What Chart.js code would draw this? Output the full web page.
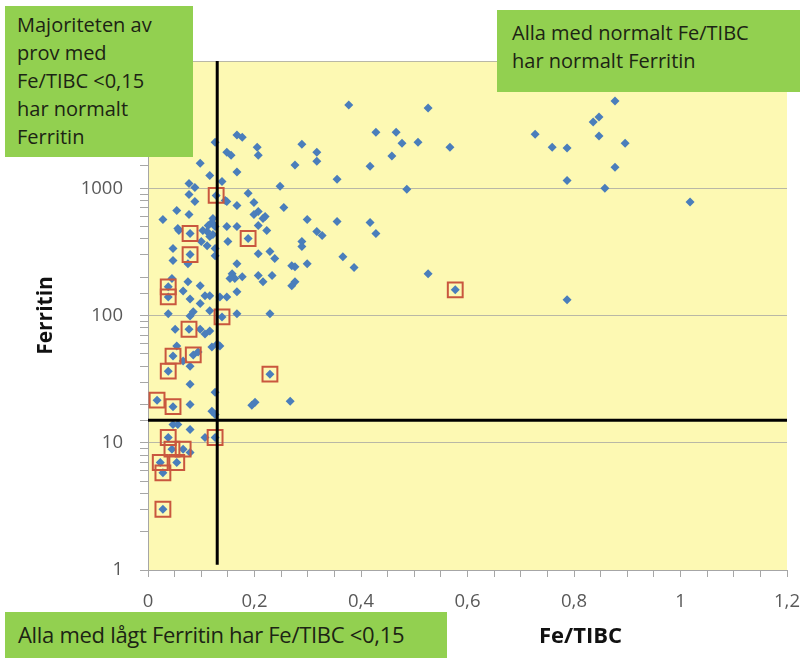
<!DOCTYPE html>
<html>
<head>
<meta charset="utf-8">
<script src="https://cdn.jsdelivr.net/npm/chart.js@4.4.1/dist/chart.umd.min.js"></script>
<style>
  body { margin: 0; background: #fff; }
  #wrap { position: relative; width: 800px; height: 658px; font-family: "Open Sans", Lato, sans-serif; }
  .note { position: absolute; background: #92d050; color: #1c2414; font-size: 20px; line-height: 28px; box-sizing: border-box; }
  #xtitle { position: absolute; left: 539px; top: 619px; font-size: 22px; font-weight: bold; color: #111; }
</style>
</head>
<body>
<div id="wrap">
  <canvas id="c"></canvas>
  <div class="note" style="left:5px;top:6px;width:188px;height:151px;padding:5px 0 0 12px;">Majoriteten av<br>prov med<br>Fe/TIBC &lt;0,15<br>har normalt<br>Ferritin</div>
  <div class="note" style="left:497px;top:10px;width:303px;height:82px;padding:9px 0 0 15px;">Alla med normalt Fe/TIBC<br>har normalt Ferritin</div>
  <div class="note" style="left:5px;top:612px;width:442px;height:46px;padding:7px 0 0 13px;font-size:22px;line-height:30px;letter-spacing:-0.3px;">Alla med lågt Ferritin har Fe/TIBC &lt;0,15</div>
  <div id="xtitle">Fe/TIBC</div>
</div>
<script>
// alla prov: Fe/TIBC och Ferritin
var feTibc = [0.877, 0.847, 0.836, 0.727, 0.759, 0.787, 0.847, 0.896, 0.877, 0.787, 0.858, 1.018, 0.787,
  0.377, 0.526, 0.428, 0.466, 0.477, 0.507, 0.567, 0.458, 0.417, 0.355, 0.486, 0.355, 0.417, 0.428, 0.366, 0.387, 0.526, 0.577,
  0.167, 0.177, 0.126, 0.205, 0.289, 0.148, 0.156, 0.207, 0.317, 0.317, 0.098, 0.276, 0.167, 0.116,
  0.077, 0.248, 0.088, 0.139, 0.077, 0.128, 0.188, 0.148, 0.088, 0.199, 0.167, 0.255, 0.054, 0.207,
  0.199, 0.077, 0.220, 0.028, 0.299, 0.120, 0.113, 0.167, 0.148, 0.207, 0.079, 0.111, 0.058, 0.188,
  0.317, 0.327, 0.223, 0.122, 0.150, 0.289, 0.100, 0.216, 0.122, 0.126, 0.116, 0.047, 0.111, 0.079,
  0.126, 0.207, 0.229, 0.047, 0.126, 0.238, 0.075, 0.167, 0.270, 0.289, 0.299, 0.276, 0.207, 0.158,
  0.177, 0.075, 0.098, 0.233, 0.163, 0.154, 0.216, 0.276, 0.270, 0.038, 0.038, 0.045, 0.066, 0.079,
  0.107, 0.116, 0.135, 0.148, 0.167, 0.098, 0.038, 0.079, 0.085, 0.116, 0.139, 0.167, 0.229, 0.051,
  0.077, 0.098, 0.107, 0.116, 0.130, 0.135, 0.120, 0.054, 0.047, 0.085, 0.094, 0.066, 0.038, 0.079,
  0.229, 0.079, 0.126, 0.017, 0.047, 0.079, 0.201, 0.195, 0.267, 0.120, 0.126, 0.047, 0.056, 0.079,
  0.038, 0.107, 0.126, 0.045, 0.066, 0.079, 0.023, 0.054, 0.028, 0.028, 0.056, 0.103, 0.145];
var ferritin = [4850, 3630, 3310, 2660, 2100, 2070, 2570, 2260, 1460, 1150, 1000, 780, 133,
  4510, 4270, 2760, 2760, 2260, 2300, 2100, 1790, 1490, 1175, 980, 548, 538, 441, 290, 238, 213, 159,
  2620, 2520, 2300, 2100, 2220, 1920, 1820, 1820, 1920, 1630, 1570, 1520, 1340, 1260,
  1090, 1035, 1015, 1130, 895, 879, 912, 788, 788, 774, 733, 707, 669, 658,
  623, 623, 600, 568, 568, 538, 509, 500, 500, 509, 441, 457, 466, 403,
  457, 425, 466, 433, 381, 381, 381, 578, 578, 500, 417, 336, 354, 301,
  336, 306, 318, 270, 295, 280, 255, 255, 246, 348, 255, 242, 206, 213,
  202, 184, 171, 206, 195, 195, 184, 184, 171, 168, 140, 195, 156, 135,
  143, 143, 140, 140, 154, 124, 103, 99, 107, 109, 97.5, 103, 103, 78,
  78, 78, 71.6, 75.5, 59.7, 57.5, 56.5, 57.5, 48, 49, 51.6, 43.8, 36.5, 40,
  34.6, 28.8, 24.9, 21.6, 19.2, 20, 20.8, 19.7, 21.2, 17.7, 16.7, 13.9, 13.9, 12.7,
  11, 11, 11, 8.9, 8.9, 8.4, 7, 7, 5.8, 3, 483, 466, 802];

// markerade prov (röda rutor)
var markFe = [0.128, 0.079, 0.188, 0.079, 0.038, 0.038, 0.139, 0.077, 0.047, 0.085, 0.038, 0.229,
  0.017, 0.047, 0.038, 0.126, 0.045, 0.066, 0.023, 0.054, 0.028, 0.028, 0.577];
var markFerritin = [879, 441, 403, 301, 168, 140, 97.5, 78, 48, 49, 36.5, 34.6,
  21.6, 19.2, 11, 11, 8.9, 8.9, 7, 7, 5.8, 3, 159];

// gränsvärden
var cutFe = 0.13;
var cutFerritin = 15;

var xTicks = [0, 0.2, 0.4, 0.6, 0.8, 1, 1.2];

var gridGrey = '#b9b8a6';
var tickGrey = '#a6a6a6';

function isPow10(v) {
    var l = Math.log10(v);
    return Math.abs(l - Math.round(l)) < 1e-9;
}

var plotBg = {
    id: 'plotBg',
    beforeDraw: function(chart) {
        var a = chart.chartArea, ctx = chart.ctx;
        ctx.save();
        ctx.fillStyle = '#fdf9b3';
        ctx.fillRect(a.left, a.top, a.right - a.left, a.bottom - a.top);
        ctx.restore();
    }
};

var points = feTibc.map(function(x, i) { return {x: x, y: ferritin[i]}; });
var marks = markFe.map(function(x, i) { return {x: x, y: markFerritin[i]}; });

var ctx = document.getElementById('c');

var myChart = new Chart(ctx, {
    type: 'scatter',
    data: {
        datasets: [{
            label: 'Gräns Fe/TIBC',
            data: [{x: cutFe, y: 1.1}, {x: cutFe, y: 10000}],
            showLine: true,
            borderColor: '#000',
            borderWidth: 3,
            pointRadius: 0,
            order: 0
        }, {
            label: 'Gräns Ferritin',
            data: [{x: 0, y: cutFerritin}, {x: 1.2, y: cutFerritin}],
            showLine: true,
            borderColor: '#000',
            borderWidth: 3,
            pointRadius: 0,
            order: 0
        }, {
            label: 'Markerade',
            data: marks,
            pointStyle: 'rect',
            pointRadius: 10.5,
            backgroundColor: 'rgba(0,0,0,0)',
            borderColor: '#c9573e',
            borderWidth: 2,
            order: 1
        }, {
            label: 'Ferritin',
            data: points,
            pointStyle: 'rectRot',
            pointRadius: 4.5,
            backgroundColor: '#4a7ebb',
            borderColor: '#4a7ebb',
            borderWidth: 0,
            order: 2
        }]
    },
    options: {
        responsive: true,
        maintainAspectRatio: false,
        animation: false,
        layout: { padding: { top: 61, right: 0, left: 0, bottom: 0 } },
        plugins: {
            legend: { display: false },
            tooltip: { enabled: false }
        },
        scales: {
            x: {
                type: 'linear',
                min: 0,
                max: 1.2,
                afterFit: function(s) { s.height = 88; s.paddingRight = 13; },
                afterBuildTicks: function(s) {
                    var t = [];
                    for (var i = 0; i <= 24; i++) t.push({value: i * 0.05});
                    s.ticks = t;
                },
                ticks: {
                    autoSkip: false,
                    maxRotation: 0,
                    padding: 14,
                    color: '#595959',
                    font: { family: 'Open Sans', size: 18.5 },
                    callback: function(v) {
                        var hit = xTicks.some(function(t) { return Math.abs(t - v) < 1e-6; });
                        return hit ? String(Math.round(v * 10) / 10).replace('.', ',') : '';
                    }
                },
                grid: { color: 'rgba(0,0,0,0)', tickColor: tickGrey, tickLength: 7, drawOnChartArea: false },
                border: { color: tickGrey, width: 1 }
            },
            y: {
                type: 'logarithmic',
                min: 1,
                max: 10000,
                afterFit: function(s) { s.width = 148; },
                ticks: {
                    autoSkip: false,
                    padding: 17,
                    color: '#595959',
                    font: { family: 'Open Sans', size: 18.5 },
                    callback: function(v) {
                        return (isPow10(v) && v < 10000) ? String(v) : '';
                    }
                },
                grid: {
                    color: function(c) { return isPow10(c.tick.value) ? gridGrey : 'rgba(0,0,0,0)'; },
                    tickColor: tickGrey,
                    tickLength: 8
                },
                border: { color: tickGrey, width: 1 },
                title: {
                    display: true,
                    text: 'Ferritin',
                    color: '#111',
                    font: { family: 'Open Sans', size: 21, weight: 'bold' },
                    padding: { top: 33, bottom: 0 }
                }
            }
        }
    },
    plugins: [plotBg]
});
</script>
</body>
</html>
